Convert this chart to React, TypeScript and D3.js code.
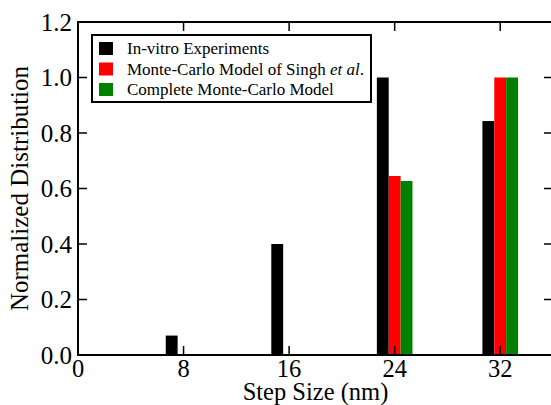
import React from "react";
import * as d3 from "d3";

const categories = [8, 16, 24, 32];
const seriesNames = ["In-vitro Experiments", "Monte-Carlo Model of Singh", "Complete Monte-Carlo Model"];
const inVitro = [0.07, 0.4, 1.0, 0.843];
const singh: (number | null)[] = [null, null, 0.645, 1.0];
const complete: (number | null)[] = [null, null, 0.627, 1.0];
const xTicks = [0, 8, 16, 24, 32];
const yTicks = [0, 0.2, 0.4, 0.6, 0.8, 1.0, 1.2];
const colors = ["#000000", "#ff0000", "#008000"];

const W = 551, H = 405;
const M = { left: 78, right: 553, top: 22, bottom: 355 };
const FONT = "Liberation Serif";
const ts = { fontFamily: FONT };

export default function App() {
  const x = d3.scaleLinear().domain([0, 36]).range([M.left, M.right]);
  const y = d3.scaleLinear().domain([0, 1.2]).range([M.bottom, M.top]);
  const barW = x(0.9) - x(0);
  const offsets = [-0.9, 0, 0.9];
  const series = [inVitro, singh, complete];
  const tick = 9;

  return (
    <svg width={W} height={H} style={{ position: "absolute", left: 0, top: 0, background: "#fff" }}>
      <rect x={0} y={0} width={W} height={H} fill="#fff" />
      {series.map((vals, si) =>
        vals.map((v, ci) =>
          v == null ? null : (
            <rect
              key={`${si}-${ci}`}
              x={x(categories[ci] + offsets[si]) - barW / 2}
              y={y(v)}
              width={barW}
              height={y(0) - y(v)}
              fill={colors[si]}
            />
          )
        )
      )}
      <rect x={M.left} y={M.top} width={M.right - M.left} height={M.bottom - M.top} fill="none" stroke="#000" strokeWidth={2} />
      {xTicks.map((t) => (
        <g key={`xt${t}`}>
          <line x1={x(t)} x2={x(t)} y1={M.bottom} y2={M.bottom - tick} stroke="#000" strokeWidth={1.5} />
          <line x1={x(t)} x2={x(t)} y1={M.top} y2={M.top + tick} stroke="#000" strokeWidth={1.5} />
          <text x={x(t)} y={377} textAnchor="middle" fontSize={24.5} style={ts}>{t}</text>
        </g>
      ))}
      {yTicks.map((t) => (
        <g key={`yt${t}`}>
          <line x1={M.left} x2={M.left + tick} y1={y(t)} y2={y(t)} stroke="#000" strokeWidth={1.5} />
          <line x1={M.right} x2={M.right - tick} y1={y(t)} y2={y(t)} stroke="#000" strokeWidth={1.5} />
          <text x={72} y={y(t)} dy="0.35em" textAnchor="end" fontSize={25} style={ts}>{t.toFixed(1)}</text>
        </g>
      ))}
      <text x={(M.left + M.right) / 2} y={399.5} textAnchor="middle" fontSize={24.5} style={ts}>Step Size (nm)</text>
      <text transform={`translate(28,${(M.top + M.bottom) / 2}) rotate(-90)`} textAnchor="middle" fontSize={25} style={ts}>Normalized Distribution</text>
      <rect x={92} y={35} width={279} height={67} fill="#fff" stroke="#000" strokeWidth={2} />
      {seriesNames.map((name, i) => (
        <g key={name}>
          <rect x={99} y={42 + i * 20.5} width={14} height={13} fill={colors[i]} />
          <text x={127} y={48.5 + i * 20.5} dy="0.35em" fontSize={17} style={ts}>
            {name}
            {i === 1 ? <tspan> <tspan fontStyle="italic">et al</tspan>.</tspan> : null}
          </text>
        </g>
      ))}
    </svg>
  );
}
